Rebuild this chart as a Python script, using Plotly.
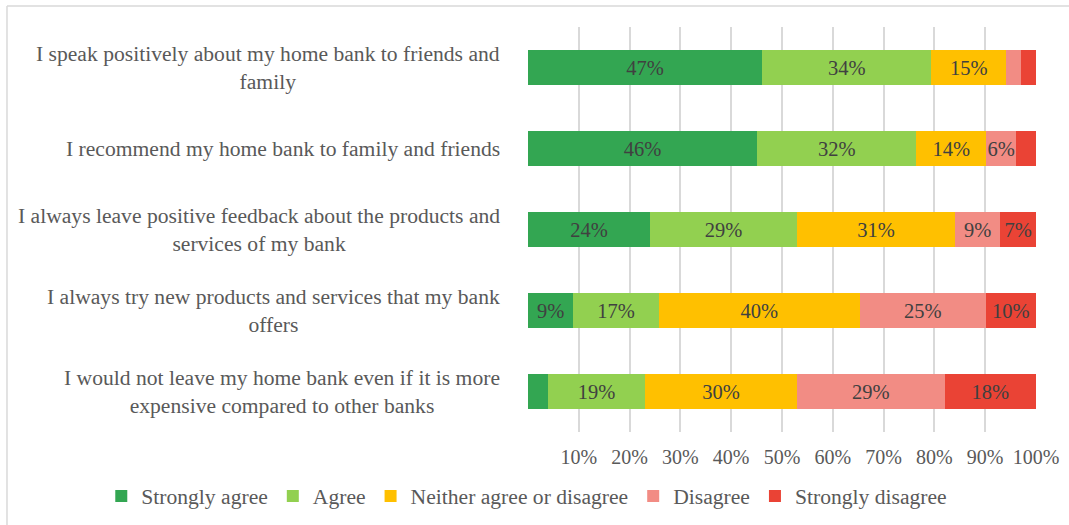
import plotly.graph_objects as go

# Survey statements (top to bottom)
statements = [
    "I speak positively about my home bank to friends and<br>family",
    "I recommend my home bank to family and friends",
    "I always leave positive feedback about the products and<br>services of my bank",
    "I always try new products and services that my bank<br>offers",
    "I would not leave my home bank even if it is more<br>expensive compared to other banks",
]

# Response shares (%) per statement
strongly_agree = [47, 46, 24, 9, 4]
agree = [34, 32, 29, 17, 19]
neutral = [15, 14, 31, 40, 30]
disagree = [3, 6, 9, 25, 29]
strongly_disagree = [3, 4, 7, 10, 18]

# Which segment labels are shown on the bars
show_sa = [True, True, True, True, False]
show_a = [True, True, True, True, True]
show_n = [True, True, True, True, True]
show_d = [False, True, True, True, True]
show_sd = [False, False, True, True, True]

series_names = ["Strongly agree", "Agree", "Neither agree or disagree",
                "Disagree", "Strongly disagree"]
series_values = [strongly_agree, agree, neutral, disagree, strongly_disagree]
series_show = [show_sa, show_a, show_n, show_d, show_sd]
series_colors = ["#33A652", "#92D050", "#FFC000", "#F28C84", "#EA4335"]

tick_vals = [10, 20, 30, 40, 50, 60, 70, 80, 90, 100]
tick_text = [f"{v}%" for v in tick_vals]

FONT = "Liberation Serif, Times New Roman, serif"
TEXT_GREY = "#595959"

fig = go.Figure()
for name, vals, show, col in zip(series_names, series_values, series_show, series_colors):
    labels = [f"{v}%" if s else "" for v, s in zip(vals, show)]
    fig.add_trace(go.Bar(
        name=name,
        y=statements,
        x=vals,
        orientation="h",
        marker=dict(color=col, line=dict(width=0)),
        text=labels,
        texttemplate="%{text}",
        textposition="inside",
        insidetextanchor="middle",
        textangle=0,
        constraintext="none",
        textfont=dict(family=FONT, size=20.5, color="#404040"),
        hoverinfo="skip",
    ))

# Statement labels, centred line by line and right-aligned next to the bars
for s in statements:
    fig.add_annotation(
        x=-0.051, xref="paper", y=s, yref="y",
        text=s, showarrow=False, xanchor="right", yanchor="middle",
        align="center",
        font=dict(family=FONT, size=21.6, color=TEXT_GREY),
    )

# Light frame around the chart area
fig.add_shape(type="line", xref="paper", yref="paper",
              x0=-1.0256, x1=1.1, y0=1.0518, y1=1.0518,
              line=dict(color="#D9D9D9", width=1.5))
fig.add_shape(type="line", xref="paper", yref="paper",
              x0=-1.0256, x1=-1.0256, y0=1.0518, y1=-0.3,
              line=dict(color="#D9D9D9", width=1.5))

fig.update_layout(
    barmode="stack",
    barnorm="percent",
    bargap=0.58,
    width=1069, height=525,
    margin=dict(l=528, r=33, t=27, b=92.5, pad=0, autoexpand=False),
    paper_bgcolor="white",
    plot_bgcolor="white",
    font=dict(family=FONT, size=21, color=TEXT_GREY),
    showlegend=True,
    legend=dict(
        orientation="h",
        xref="paper", yref="paper",
        x=-0.84, xanchor="left",
        y=-0.159, yanchor="middle",
        bgcolor="rgba(0,0,0,0)",
        font=dict(family=FONT, size=21.6, color=TEXT_GREY),
        traceorder="normal",
        itemwidth=30,
        itemclick=False,
    ),
    xaxis=dict(
        range=[0, 100],
        tickvals=tick_vals,
        ticktext=tick_text,
        showgrid=True,
        gridcolor="#D9D9D9",
        gridwidth=1.5,
        zeroline=False,
        showline=False,
        ticks="",
        ticklabelstandoff=11,
        tickfont=dict(family=FONT, size=20, color=TEXT_GREY),
        fixedrange=True,
    ),
    yaxis=dict(
        autorange="reversed",
        showticklabels=False,
        showgrid=False,
        zeroline=False,
        showline=False,
        ticks="",
        fixedrange=True,
    ),
)

fig.write_html("out.html")
